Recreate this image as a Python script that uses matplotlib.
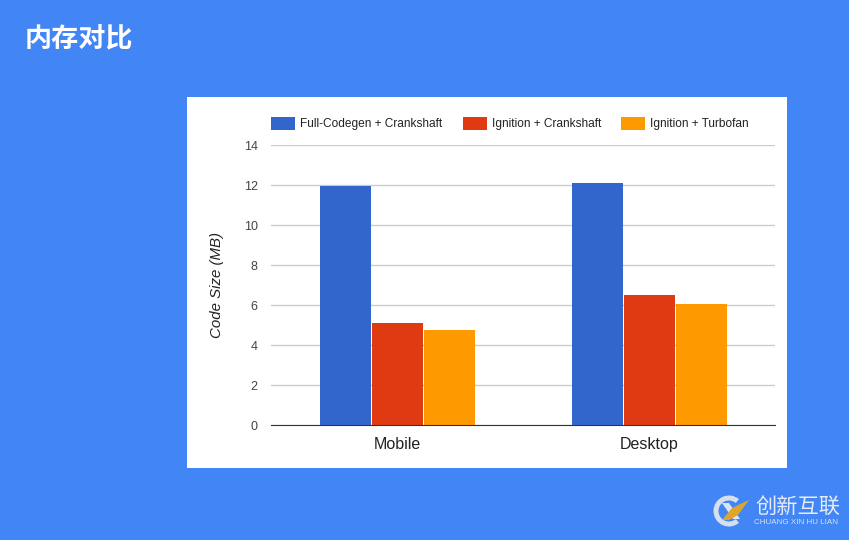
import numpy as np
import matplotlib
matplotlib.use('Agg')
import matplotlib.pyplot as plt
from matplotlib.patches import Rectangle, Wedge, Polygon

plt.rcParams['font.family'] = ['Liberation Sans', 'Noto Sans CJK SC', 'DejaVu Sans']

# Data
categories = ['Mobile', 'Desktop']
full_codegen = [11.95, 12.1]
ignition_crank = [5.1, 6.5]
ignition_turbo = [4.75, 6.05]
series_names = ['Full-Codegen + Crankshaft', 'Ignition + Crankshaft', 'Ignition + Turbofan']
colors = ['#3366cc', '#e03a12', '#ff9900']
y_ticks = [0, 2, 4, 6, 8, 10, 12, 14]

W, H = 849, 540
BG = '#4285f4'

fig = plt.figure(figsize=(W / 100, H / 100), dpi=100, facecolor=BG)

# Overlay in pixel coordinates for the slide parts
bg = fig.add_axes([0, 0, 1, 1], zorder=0)
bg.set_xlim(0, W)
bg.set_ylim(H, 0)
bg.axis('off')
bg.add_patch(Rectangle((187, 97), 600, 371, facecolor='white', edgecolor='none'))
bg.text(25, 38, '内存对比', color='white', fontsize=19.5, fontweight='bold',
        family=['Noto Sans CJK SC', 'DejaVu Sans'], va='center', ha='left')

# Logo
bg.add_patch(Wedge((729, 511), 15.5, 50, 310, width=5, facecolor='#d5dfee', edgecolor='none'))
bg.add_patch(Polygon([[722, 503], [729, 503], [740, 519], [733, 519]], facecolor='#dce4f0', edgecolor='none'))
bg.add_patch(Polygon([[722, 520], [732, 508], [749, 500], [738, 515], [729, 520]],
                     facecolor='#dca62e', edgecolor='none'))
bg.text(755, 508, '创新互联', color='#e4ecfa', fontsize=15.3,
        family=['Noto Sans CJK SC', 'DejaVu Sans'], va='center', ha='left')
bg.text(754, 522.5, 'CHUANG XIN HU LIAN', color='#d5e0f5', fontsize=5.8, va='center', ha='left')

# Chart
ax = fig.add_axes([271 / W, 1 - 425 / H, 504 / W, 280 / H], zorder=1)
ax.patch.set_alpha(0)
x = np.arange(len(categories))
bar_w = 0.2
step = 0.206
for i, vals in enumerate([full_codegen, ignition_crank, ignition_turbo]):
    ax.bar(x + (i - 1) * step + 0.002, vals, bar_w, color=colors[i], zorder=3)

ax.set_xlim(-0.5, 1.5)
ax.set_ylim(0, 14)
ax.set_yticks(y_ticks)
ax.set_xticks(x)
ax.set_xticklabels(categories, fontsize=11.5, color='#222222')
ax.tick_params(axis='x', length=0, pad=8.5)
ax.tick_params(axis='y', length=0, pad=9.5, labelsize=9, labelcolor='#444444')
ax.grid(axis='y', color='#cccccc', linewidth=1, zorder=0)
for s in ['top', 'right', 'left']:
    ax.spines[s].set_visible(False)
ax.spines['bottom'].set_color('#333333')
ax.spines['bottom'].set_zorder(4)
ax.set_axisbelow(True)
bg.text(217.5, 285, 'Code Size (MB)', rotation=90, fontsize=10.8, style='italic',
        color='#222222', va='center', ha='center')

# Legend, placed by hand like the original
legend_x = [271, 463.5, 621]
for lx, name, c in zip(legend_x, series_names, colors):
    bg.add_patch(Rectangle((lx, 117), 24, 13, facecolor=c, edgecolor='none'))
    bg.text(lx + 29, 124.5, name, fontsize=8.6, color='#222222', va='center', ha='left')

fig.savefig('out.png', dpi=100, facecolor=fig.get_facecolor())
